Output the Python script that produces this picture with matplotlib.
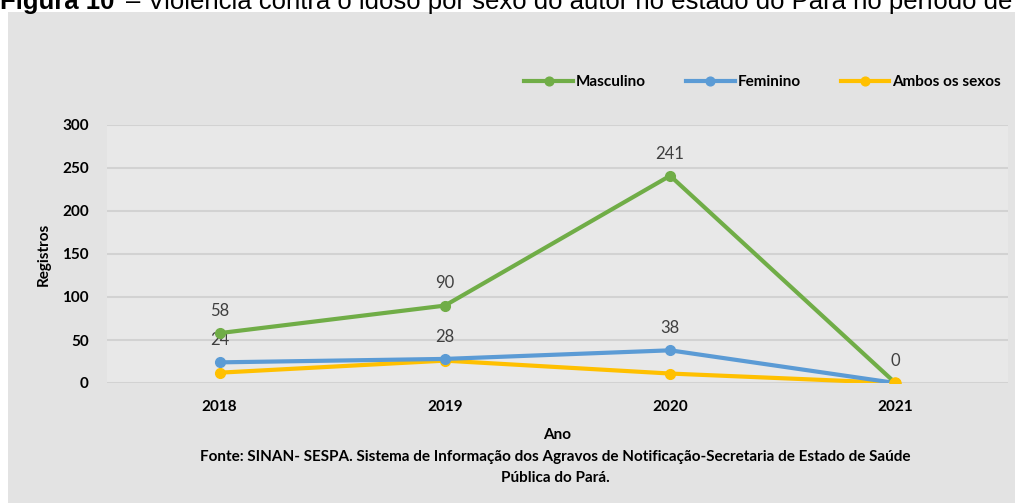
import matplotlib.pyplot as plt
from matplotlib.patches import Rectangle

anos = ['2018', '2019', '2020', '2021']
masculino = [58, 90, 241, 0]
feminino = [24, 28, 38, 0]
ambos = [12, 26, 11, 0]
yticks = [0, 50, 100, 150, 200, 250, 300]

verde = '#70AD47'
azul = '#5B9BD5'
amarelo = '#FFC000'
fonte = 'Lato'

fig = plt.figure(figsize=(10.15, 5.03), dpi=100, facecolor='white')

# painel cinza atras do grafico
fig.patches.append(Rectangle((8 / 1015, 0), 1, 1 - 12 / 503, transform=fig.transFigure,
                             facecolor='#e3e3e3', edgecolor='none', zorder=-5))

# titulo cortado no topo (como na figura original)
fig.text(0.0, 1 - 9 / 503, 'Figura 10', fontsize=18.5, fontweight='bold', family='Liberation Sans',
         ha='left', va='baseline')
fig.text(0.124, 1 - 9 / 503, '– Violência contra o idoso por sexo do autor no estado do Pará no período de 2018 a 2021',
         fontsize=18.5, family='Liberation Sans', ha='left', va='baseline')

ax = fig.add_axes([107 / 1015, 1 - 383 / 503, 901 / 1015, 258 / 503])
ax.set_facecolor('#e8e8e8')
x = list(range(len(anos)))

ax.plot(x, ambos, color=amarelo, lw=3, marker='o', ms=7, label='Ambos os sexos', zorder=3)
ax.plot(x, feminino, color=azul, lw=3, marker='o', ms=7, label='Feminino', zorder=4)
ax.plot(x, masculino, color=verde, lw=3, marker='o', ms=7, label='Masculino', zorder=5)
# ambos por cima no ultimo ponto
ax.plot(x[-1], ambos[-1], color=amarelo, marker='o', ms=8, zorder=6)

for i, v in enumerate(masculino):
    ax.annotate(str(v), (i, v), xytext=(0, 16), textcoords='offset points', ha='center',
                va='center', fontsize=12, color='#404040', family=fonte)
for i, v in enumerate(feminino[:3]):
    ax.annotate(str(v), (i, v), xytext=(0, 16), textcoords='offset points', ha='center',
                va='center', fontsize=12, color='#404040', family=fonte)

ax.set_xlim(-0.5, 3.5)
ax.set_ylim(0, 300)
ax.set_yticks(yticks)
ax.set_xticks(x)
ax.set_xticklabels(anos)
ax.grid(axis='y', color='#d2d2d2', lw=1.5)
ax.set_axisbelow(True)
for s in ax.spines.values():
    s.set_visible(False)
ax.tick_params(length=0, labelsize=11)
for t in ax.get_xticklabels() + ax.get_yticklabels():
    t.set_fontweight('bold')
    t.set_family(fonte)
ax.tick_params(axis='x', pad=12)
ax.tick_params(axis='y', pad=13)

ax.set_ylabel('Registros', fontsize=11, fontweight='bold', family=fonte, labelpad=8)
ax.set_xlabel('Ano', fontsize=11, fontweight='bold', family=fonte, labelpad=10)

fig.text(0.547, 1 - 457 / 503, 'Fonte: SINAN- SESPA. Sistema de Informação dos Agravos de Notificação-Secretaria de Estado de Saúde',
         fontsize=11, fontweight='bold', family=fonte, ha='center', va='center')
fig.text(0.547, 1 - 478 / 503, 'Pública do Pará.', fontsize=11, fontweight='bold', family=fonte,
         ha='center', va='center')

h, l = ax.get_legend_handles_labels()
leg = fig.legend([h[2], h[1], h[0]], [l[2], l[1], l[0]], loc='center right',
                 bbox_to_anchor=(1.0, 1 - 82 / 503), ncol=3, frameon=False,
                 prop={'family': fonte, 'weight': 'bold', 'size': 11},
                 handlelength=3.2, handletextpad=0.2, columnspacing=2.6, markerscale=0.9)

fig.savefig('out.png', dpi=100, facecolor='white')
